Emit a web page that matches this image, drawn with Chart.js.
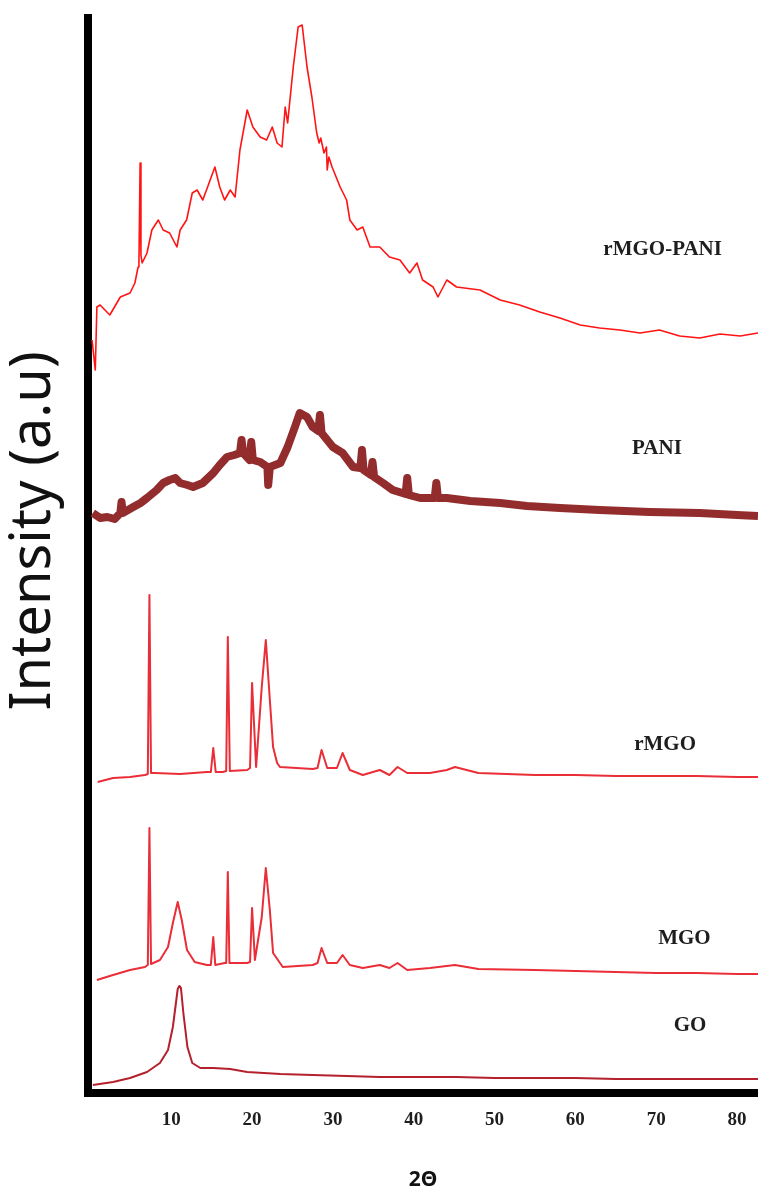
<!DOCTYPE html>
<html><head><meta charset="utf-8">
<script src="https://cdn.jsdelivr.net/npm/chart.js@4/dist/chart.umd.min.js"></script>
<style>html,body{margin:0;padding:0;background:#fff}</style>
</head><body>
<canvas id="c" width="758" height="1191"></canvas>
<script>
// ---- data (2θ in degrees, intensity in arbitrary units, stacked offsets as in the figure) ----
const xTicks = [10, 20, 30, 40, 50, 60, 70, 80];
const seriesNames = ['rMGO-PANI', 'PANI', 'rMGO', 'MGO', 'GO'];

const goX = [0.3, 2.8, 4.9, 7.0, 8.6, 9.6, 10.2, 10.8, 11.0, 11.2, 11.5, 12.0, 12.6, 13.6, 15.2, 17.3, 19.4, 23.5, 27.5, 31.7, 35.8, 39.9, 45.3, 50, 55, 60, 65, 70, 75, 80, 82.6];
const goY = [0.8, 1.1, 1.5, 2.1, 3.0, 4.3, 6.6, 10.4, 10.7, 10.5, 8.0, 4.6, 3.0, 2.5, 2.5, 2.4, 2.1, 1.9, 1.8, 1.7, 1.6, 1.6, 1.6, 1.5, 1.5, 1.5, 1.4, 1.4, 1.4, 1.4, 1.4];

const mgoX = [0.8, 2.8, 4.9, 6.75, 7.1, 7.3, 7.5, 8.6, 9.6, 10.2, 10.8, 11.3, 11.95, 12.9, 14.4, 14.9, 15.2, 15.45, 16.6, 16.8, 17.0, 17.2, 17.5, 19.4, 19.75, 20.0, 20.35, 21.2, 21.7, 22.2, 22.6, 23.2, 23.8, 27.5, 28.1, 28.6, 29.3, 30.5, 31.2, 32.1, 33.7, 35.8, 37.0, 38.0, 39.2, 42.0, 45.1, 48, 55, 60, 65, 70, 75, 80, 82.6];
const mgoY = [11.3, 11.8, 12.3, 12.6, 12.8, 26.5, 12.9, 13.3, 14.6, 17.0, 19.1, 17.3, 14.3, 13.1, 12.8, 12.8, 15.6, 12.8, 13.0, 13.0, 22.1, 13.0, 13.0, 13.0, 13.1, 18.5, 13.3, 17.6, 22.5, 18.3, 14.0, 13.3, 12.6, 12.8, 13.0, 14.5, 13.0, 13.0, 13.8, 12.8, 12.5, 12.8, 12.5, 13.0, 12.3, 12.5, 12.8, 12.4, 12.3, 12.2, 12.1, 12.0, 12.0, 11.9, 11.9];

const rmgoX = [0.9, 2.8, 4.9, 6.75, 7.1, 7.3, 7.5, 8.0, 11.1, 14.4, 14.9, 15.2, 15.5, 16.4, 16.8, 17.0, 17.25, 19.4, 19.75, 20.0, 20.5, 21.2, 21.7, 22.2, 22.6, 23.1, 23.45, 25.5, 27.5, 28.1, 28.6, 29.3, 30.5, 31.2, 32.1, 33.7, 35.8, 37.0, 38.0, 39.2, 42.0, 44.1, 45.1, 48, 55, 60, 65, 70, 75, 80, 82.6];
const rmgoY = [31.1, 31.5, 31.6, 31.8, 31.9, 49.8, 32.0, 32.0, 31.9, 32.1, 32.1, 34.5, 32.1, 32.1, 32.2, 45.6, 32.2, 32.3, 32.5, 41.0, 32.6, 40.6, 45.3, 39.3, 34.6, 33.0, 32.6, 32.5, 32.4, 32.5, 34.3, 32.5, 32.5, 34.0, 32.3, 31.8, 32.3, 31.8, 32.6, 32.0, 32.0, 32.3, 32.6, 32.0, 31.8, 31.8, 31.7, 31.7, 31.7, 31.6, 31.6];

const paniX = [0.3, 1.2, 2.1, 3.0, 3.7, 3.85, 4.0, 5.3, 6.2, 7.0, 8.2, 9.0, 9.8, 10.5, 11.1, 12.0, 12.7, 13.9, 15.2, 16.0, 16.9, 17.8, 18.5, 18.7, 18.9, 19.7, 19.9, 20.1, 21.0, 21.9, 22.0, 22.2, 23.5, 24.4, 25.3, 25.9, 26.8, 27.5, 28.2, 28.4, 28.6, 30.0, 31.2, 32.5, 33.4, 33.6, 33.8, 34.7, 34.9, 35.1, 36.2, 37.4, 39.0, 39.2, 39.4, 40.8, 42.6, 42.8, 43.0, 44.1, 47, 50.7, 54, 58.1, 63.0, 69.2, 75.4, 80, 82.6];
const paniY = [58.0, 57.5, 57.6, 57.4, 58.0, 59.1, 58.0, 58.6, 59.0, 59.5, 60.3, 61.0, 61.3, 61.5, 61.0, 60.8, 60.6, 61.0, 62.0, 62.8, 63.6, 63.8, 64.0, 65.3, 64.0, 63.3, 65.1, 63.3, 63.1, 62.6, 60.8, 62.6, 63.0, 64.6, 66.6, 68.0, 67.6, 66.6, 66.2, 67.8, 66.0, 64.6, 64.0, 62.6, 62.5, 64.3, 62.3, 61.8, 63.1, 61.6, 61.0, 60.3, 59.9, 61.5, 59.8, 59.5, 59.5, 61.0, 59.5, 59.5, 59.2, 59.0, 58.7, 58.5, 58.3, 58.1, 58.0, 57.8, 57.7];

const rpX = [0.2, 0.6, 0.8, 1.2, 2.4, 3.7, 4.9, 5.5, 5.9, 6.0, 6.15, 6.25, 6.4, 7.0, 7.6, 8.4, 9.0, 9.8, 10.7, 11.1, 11.9, 12.6, 13.2, 13.9, 14.5, 15.4, 16.0, 16.6, 17.3, 17.9, 18.5, 19.4, 20.1, 21.0, 21.8, 22.5, 23.1, 23.7, 24.1, 24.4, 25.1, 25.7, 26.2, 26.8, 27.4, 28.0, 28.3, 28.5, 28.9, 29.2, 29.3, 29.5, 29.9, 30.9, 31.7, 32.1, 33.0, 33.7, 34.6, 35.8, 37.0, 38.3, 39.5, 40.4, 41.1, 42.4, 43.0, 44.1, 45.3, 48.2, 50.7, 53.1, 55.6, 58.1, 60.6, 63.0, 65.5, 68.0, 70.4, 72.9, 75.4, 77.9, 80.4, 82.6];
const rpY = [75.3, 72.3, 78.6, 78.8, 77.8, 79.6, 80.0, 81.0, 82.6, 82.8, 93.0, 83.8, 83.0, 84.0, 86.3, 87.3, 86.3, 86.0, 84.6, 86.3, 87.3, 90.0, 90.3, 89.3, 90.6, 92.6, 90.6, 89.3, 90.3, 89.6, 94.3, 98.3, 96.6, 95.6, 95.3, 96.6, 95.0, 94.6, 98.6, 97.0, 102.6, 106.6, 106.8, 102.6, 99.6, 96.0, 95.0, 95.5, 94.0, 94.6, 92.3, 93.6, 92.6, 90.6, 89.3, 87.3, 86.3, 86.6, 84.6, 84.6, 83.6, 83.3, 82.0, 83.0, 81.3, 80.6, 79.6, 81.3, 80.6, 80.3, 79.3, 78.8, 78.1, 77.5, 76.8, 76.5, 76.3, 76.0, 76.3, 75.7, 75.5, 75.9, 75.7, 76.0];

// where each series name is written (data coordinates)
const labelX = [70.8, 70.1, 71.1, 73.5, 74.2];
const labelY = [84.3, 64.4, 34.8, 15.4, 6.7];

const pts = (xs, ys) => xs.map((x, i) => ({x, y: ys[i]}));

const seriesLabelPlugin = {
  id: 'seriesLabels',
  afterDatasetsDraw(chart) {
    const {ctx, scales: {x, y}} = chart;
    ctx.save();
    ctx.font = "bold 21px 'Liberation Serif'";
    ctx.fillStyle = '#1e1e1e';
    ctx.textAlign = 'center';
    ctx.textBaseline = 'middle';
    seriesNames.forEach((n, i) => ctx.fillText(n, x.getPixelForValue(labelX[i]), y.getPixelForValue(labelY[i])));
    ctx.restore();
  }
};

new Chart(document.getElementById('c'), {
  type: 'line',
  data: {
    datasets: [
      {label: seriesNames[0], data: pts(rpX, rpY), borderColor: '#ff1414', borderWidth: 1.6},
      {label: seriesNames[1], data: pts(paniX, paniY), borderColor: '#932c2c', borderWidth: 8},
      {label: seriesNames[2], data: pts(rmgoX, rmgoY), borderColor: '#ea2e38', borderWidth: 2},
      {label: seriesNames[3], data: pts(mgoX, mgoY), borderColor: '#ea2e38', borderWidth: 2},
      {label: seriesNames[4], data: pts(goX, goY), borderColor: '#b4202c', borderWidth: 2}
    ]
  },
  options: {
    responsive: false,
    animation: false,
    devicePixelRatio: 1,
    layout: {padding: {top: 18, left: 0, right: 0, bottom: 0}},
    elements: {point: {radius: 0}, line: {tension: 0, borderJoinStyle: 'round'}},
    plugins: {legend: {display: false}, tooltip: {enabled: false}},
    scales: {
      x: {
        type: 'linear', min: -0.3, max: 82.6,
        grid: {display: false, drawTicks: false},
        border: {display: true, color: '#000', width: 8},
        afterBuildTicks: s => { s.ticks = xTicks.map(v => ({value: v})); },
        ticks: {color: '#1e1e1e', padding: 0, maxRotation: 0, autoSkip: false,
                font: {family: "'Liberation Serif'", size: 19, weight: 'bold', lineHeight: 54 / 19}},
        title: {display: true, text: '2Θ', color: '#111',
                font: {family: "'Noto Sans'", size: 21, weight: 'bold', lineHeight: 1},
                padding: {top: 23, bottom: 0}}
      },
      y: {
        type: 'linear', min: 0, max: 107.5,
        grid: {display: false, drawTicks: false},
        border: {display: true, color: '#000', width: 8},
        ticks: {display: false},
        title: {display: true, text: '   \u200AIntensity (a.u)', color: '#111',
                font: {family: "'Noto Sans'", size: 56, weight: 'normal', lineHeight: 1},
                padding: {top: 6, bottom: 26}}
      }
    }
  },
  plugins: [seriesLabelPlugin]
});
</script>
</body></html>
